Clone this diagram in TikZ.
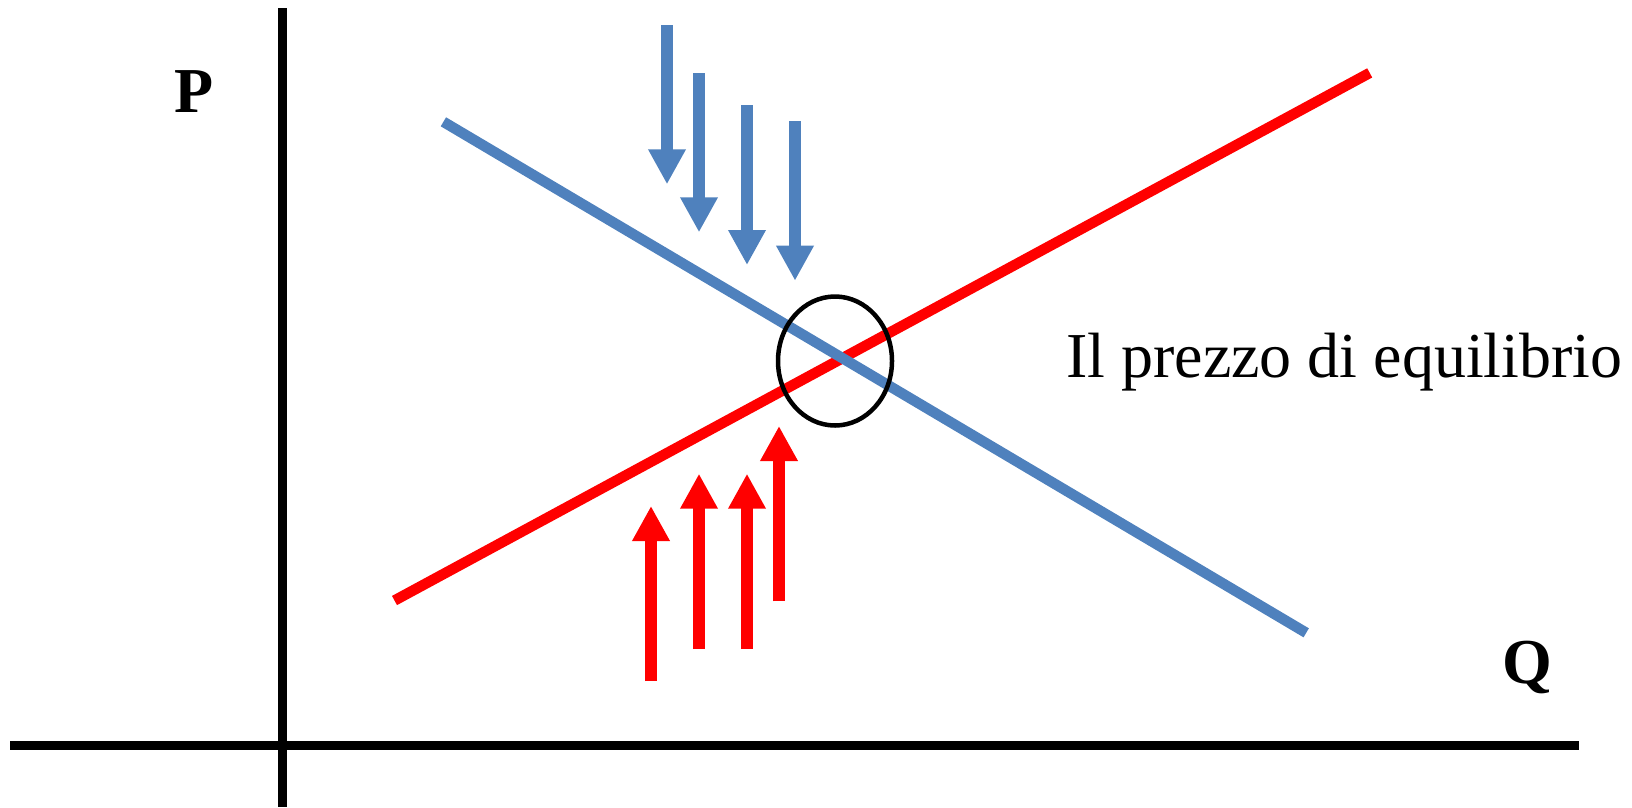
\documentclass[tikz,border=0pt]{standalone}
\usepackage{fontspec}
\setmainfont{Liberation Serif}
\usetikzlibrary{arrows.meta,shapes.geometric}
\definecolor{dblue}{RGB}{79,129,189}
\definecolor{sred}{RGB}{255,0,0}
\begin{document}
\begin{tikzpicture}[x=1pt,y=-1pt,
  axis/.style={line width=9pt,black},
  curve/.style={line width=10.5pt},
  shiftarrow/.style={line width=11.7pt,-{Triangle[width=35.3pt,length=35pt]}},
  lbl/.style={inner sep=0pt,anchor=base west,font=\fontsize{64}{70}\selectfont},
  circ/.style={line width=4.5pt,black}]
\useasboundingbox (0,0) rectangle (1632,807);
% axes
\coordinate (xa0) at (10,745.5);
\coordinate (xa1) at (1579,745.5);
\coordinate (ya0) at (282.5,8);
\coordinate (ya1) at (282.5,807);
\draw[axis] (xa0) -- (xa1);
\draw[axis] (ya0) -- (ya1);
% supply (red) and demand (blue)
\coordinate (s0) at (394.5,600.5);
\coordinate (s1) at (1369.7,72.9);
\coordinate (d0) at (443.4,121.8);
\coordinate (d1) at (1306.2,632.8);
\draw[curve,sred] (s0) -- (s1);
\draw[curve,dblue] (d0) -- (d1);
% blue arrows
\foreach \x/\t/\b [count=\i] in {667/25.3/184.3, 699/73/232.3, 747/105.3/265, 795/121.3/280.7}{
  \coordinate (ba\i) at (\x,\t);
  \coordinate (bb\i) at (\x,\b);
  \draw[shiftarrow,dblue] (ba\i) -- (bb\i);
}
% red arrows
\foreach \x/\t/\b [count=\i] in {651/681/506, 699/649/473.7, 747/649/473.7, 779/601.3/426}{
  \coordinate (ra\i) at (\x,\t);
  \coordinate (rb\i) at (\x,\b);
  \draw[shiftarrow,sred] (ra\i) -- (rb\i);
}
% equilibrium circle
\node[circ,draw,ellipse,minimum width=114pt,minimum height=129pt,inner sep=0pt] (eq) at (835,361) {};
% labels
\node[lbl] (lp) at (1066,377.3) {Il prezzo di equilibrio};
\node[lbl,font=\fontsize{64}{70}\selectfont\bfseries] (P) at (174,112.7) {P};
\node[lbl,font=\fontsize{64}{70}\selectfont\bfseries] (Q) at (1502,683) {Q};
\end{tikzpicture}
\end{document}
